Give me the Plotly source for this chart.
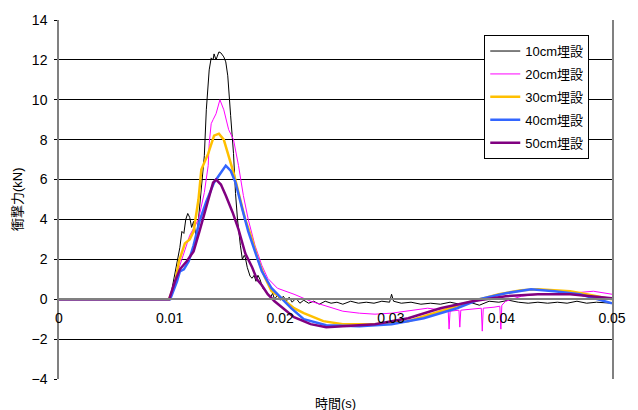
import plotly.graph_objects as go

# 10cm埋設
t10 = [0, 0.00996, 0.01014, 0.01049, 0.01076, 0.01093, 0.01111, 0.01129, 0.01146, 0.01164, 0.01182,
       0.01199, 0.01217, 0.01235, 0.01243, 0.01261, 0.01287, 0.01314, 0.01332, 0.01358, 0.01376,
       0.01393, 0.01402, 0.01420, 0.01429, 0.01446, 0.01464, 0.01490, 0.01508, 0.01526, 0.01552,
       0.01578, 0.01596, 0.01614, 0.01640, 0.01658, 0.01675, 0.01684, 0.01702, 0.01728, 0.01746,
       0.01764, 0.01781, 0.01799, 0.01817, 0.01834, 0.01843, 0.01861, 0.01887, 0.01914, 0.01931,
       0.01949, 0.01975, 0.02002, 0.02028, 0.02055, 0.02081, 0.02108, 0.02143, 0.02178, 0.02213,
       0.02257, 0.02302, 0.02354, 0.02407, 0.02460, 0.02513, 0.02566, 0.02637, 0.02707, 0.02778,
       0.02848, 0.02919, 0.02989, 0.03007, 0.03025, 0.03095, 0.03183, 0.03272, 0.03360, 0.03448,
       0.03536, 0.03624, 0.03713, 0.03801, 0.03889, 0.03977, 0.04065, 0.04153, 0.04242, 0.04330,
       0.04418, 0.04506, 0.04594, 0.04683, 0.04771, 0.04859, 0.05]
v10 = [0, 0, 0.3, 1.3, 2.2, 2.6, 3.4, 3.3, 4.0, 4.3, 4.1,
       3.6, 3.9, 3.2, 3.0, 4.0, 5.5, 7.2, 9.5, 11.5, 12.1,
       12.0, 12.3, 12.0, 12.15, 12.4, 12.35, 12.15, 11.9, 11.2, 9.2,
       7.3, 5.3, 4.0, 2.7, 2.0, 2.2, 2.1, 1.6, 1.15, 1.05,
       1.2, 0.9, 1.2, 1.0, 0.75, 0.55, 0.45, 0.3, 0.1, 0.3,
       0.0, 0.2, -0.05, 0.15, -0.1, 0.1, -0.15, 0.05, -0.2, -0.05,
       -0.2, -0.1, -0.25, -0.1, -0.2, -0.15, -0.25, -0.1, -0.2, -0.15,
       -0.2, -0.1, -0.15, 0.25, -0.1, -0.2, -0.15, -0.25, -0.2, -0.25,
       -0.15, -0.25, -0.15, -0.3, -0.1, -0.15, -0.05, -0.15, -0.2, -0.15,
       -0.2, -0.15, -0.2, -0.1, -0.2, -0.15, -0.2]

# 20cm埋設
t20 = [0, 0.00996, 0.01023, 0.01093, 0.01182, 0.01261, 0.01314, 0.01349, 0.01358, 0.01376, 0.01393,
       0.01420, 0.01455, 0.01490, 0.01534, 0.01578, 0.01623, 0.01667, 0.01711, 0.01772, 0.01834,
       0.01887, 0.01975, 0.02125, 0.02275, 0.02416, 0.02566, 0.02716, 0.02857, 0.03007, 0.03157,
       0.03333, 0.03466, 0.03519, 0.03527, 0.03536, 0.03616, 0.03624, 0.03633, 0.03713, 0.03818,
       0.03827, 0.03836, 0.03933, 0.03986, 0.03995, 0.04004, 0.04039, 0.04180, 0.04330, 0.04621,
       0.04832, 0.05]
v20 = [0, 0, 0.4, 1.7, 3.2, 4.0, 5.35, 6.7, 7.8, 8.8, 9.0,
       9.3, 10.0, 9.5, 8.5, 8.0, 6.7, 5.2, 4.0, 2.7, 1.7,
       1.05, 0.55, 0.25, -0.1, -0.35, -0.6, -0.7, -0.75, -0.7, -0.6,
       -0.45, -0.55, -0.6, -1.5, -0.6, -0.55, -1.4, -0.55, -0.5, -0.45,
       -1.6, -0.45, -0.4, -0.35, -1.5, -0.3, -0.1, 0.15, 0.25, 0.3,
       0.4, 0.25]

# 30cm埋設
t30 = [0, 0.00996, 0.01049, 0.01085, 0.01138, 0.01182, 0.01217, 0.01261, 0.01287, 0.01349, 0.01402,
       0.01446, 0.01490, 0.01534, 0.01578, 0.01623, 0.01658, 0.01684, 0.01746, 0.01799, 0.01861,
       0.01922, 0.02037, 0.02125, 0.02213, 0.02284, 0.02390, 0.02566, 0.02857, 0.03157, 0.03448,
       0.03739, 0.03977, 0.04180, 0.04330, 0.04621, 0.04771, 0.05]
v30 = [0, 0, 0.8, 1.9, 2.8, 3.0, 3.4, 5.0, 6.5, 7.3, 8.2,
       8.3, 8.0, 7.2, 6.35, 5.35, 4.5, 4.0, 3.0, 2.0, 1.1,
       0.4, -0.05, -0.45, -0.7, -0.85, -1.1, -1.25, -1.25, -1.1, -0.6,
       -0.1, 0.25, 0.45, 0.5, 0.4, 0.25, 0.0]

# 40cm埋設
t40 = [0, 0.01005, 0.01067, 0.01093, 0.01129, 0.01173, 0.01217, 0.01270, 0.01332, 0.01402, 0.01446,
       0.01481, 0.01508, 0.01552, 0.01596, 0.01658, 0.01711, 0.01772, 0.01834, 0.01922, 0.02011,
       0.02099, 0.02213, 0.02416, 0.02716, 0.03007, 0.03298, 0.03598, 0.03801, 0.04039, 0.04268,
       0.04480, 0.04709, 0.04859, 0.05]
v40 = [0, 0, 0.9, 1.4, 1.5, 1.9, 2.7, 3.9, 4.9, 5.85, 6.2,
       6.5, 6.7, 6.45, 5.85, 4.5, 3.4, 2.4, 1.4, 0.55, 0.05,
       -0.45, -1.0, -1.3, -1.35, -1.25, -0.95, -0.45, 0.0, 0.3, 0.5,
       0.4, 0.25, 0.0, -0.2]

# 50cm埋設
t50 = [0, 0.00996, 0.01049, 0.01093, 0.01155, 0.01217, 0.01270, 0.01332, 0.01393, 0.01420, 0.01464,
       0.01508, 0.01570, 0.01623, 0.01684, 0.01746, 0.01790, 0.01834, 0.01887, 0.01949, 0.02037,
       0.02125, 0.02275, 0.02416, 0.02566, 0.02857, 0.03157, 0.03448, 0.03739, 0.04039, 0.04330,
       0.04621, 0.05]
v50 = [0, 0, 0.9, 1.5, 1.9, 2.4, 3.4, 4.7, 5.85, 6.0, 5.75,
       5.2, 4.35, 3.5, 2.3, 1.6, 1.0, 0.7, 0.25, -0.1, -0.5,
       -0.9, -1.25, -1.4, -1.35, -1.25, -0.95, -0.45, -0.1, 0.15, 0.25,
       0.25, 0.05]

x_ticks = [0, 0.01, 0.02, 0.03, 0.04, 0.05]
x_tick_text = ["0", "0.01", "0.02", "0.03", "0.04", "0.05"]

series = [
    ("10cm埋設", t10, v10, "#000000", 1),
    ("20cm埋設", t20, v20, "#FF00FF", 1),
    ("30cm埋設", t30, v30, "#FFC000", 2.5),
    ("40cm埋設", t40, v40, "#3366FF", 2.5),
    ("50cm埋設", t50, v50, "#800080", 2.5),
]

FONT = "Liberation Sans, Arial, 'Noto Sans CJK JP', sans-serif"

fig = go.Figure()
for i, (name, t, v, c, w) in enumerate(series):
    fig.add_trace(go.Scatter(x=t, y=v, mode="lines", name=name, legendgroup=str(i),
                             line=dict(color=c, width=w)))

fig.update_layout(
    width=638, height=410,
    margin=dict(l=59, r=12, t=16, b=31),
    paper_bgcolor="white", plot_bgcolor="white",
    font=dict(family=FONT, size=14, color="black"),
    showlegend=True,
    legend=dict(x=0.769, y=0.958, xanchor="left", yanchor="top",
                bordercolor="black", borderwidth=1, bgcolor="white",
                font=dict(size=13), tracegroupgap=3, itemwidth=30),
    xaxis=dict(range=[0, 0.05], showgrid=False,
               anchor="free", position=4 / 18, showline=True, linecolor="#808080",
               linewidth=1.5, ticks="", zeroline=False, ticklabelstandoff=6,
               tickvals=x_ticks, ticktext=x_tick_text, tickfont=dict(size=14)),
    yaxis=dict(range=[-4, 14], dtick=2, showgrid=True, gridcolor="black", gridwidth=1,
               showline=True, linecolor="#808080", linewidth=1.5, mirror=True,
               ticks="outside", ticklen=3, tickcolor="black", zeroline=False,
               ticklabelstandoff=4, tickfont=dict(size=14)),
    annotations=[
        dict(text="時間(s)", xref="paper", yref="paper", x=0.5, y=-0.068,
             yanchor="middle", showarrow=False, font=dict(size=13)),
        dict(text="衝撃力(kN)", xref="paper", yref="paper", x=-0.075, y=0.5,
             xanchor="center", textangle=-90, showarrow=False, font=dict(size=13)),
    ],
)

fig.write_html("out.html")
